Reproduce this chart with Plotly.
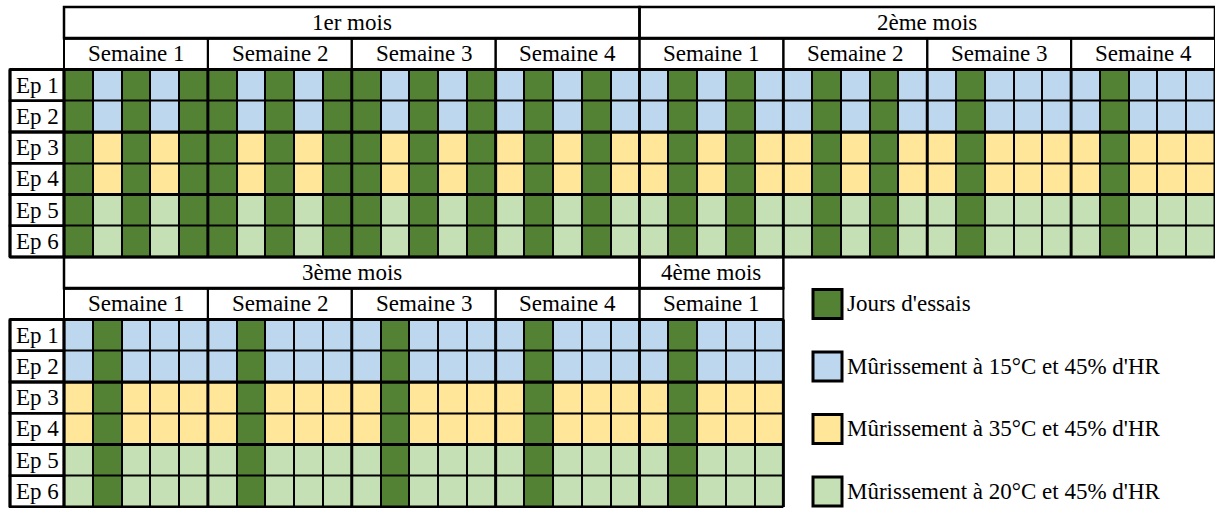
import plotly.graph_objects as go

# ---------------- data ----------------
specimens = ["Ep 1", "Ep 2", "Ep 3", "Ep 4", "Ep 5", "Ep 6"]
specimen_condition = [1, 1, 2, 2, 3, 3]  # index into legend categories

legend_labels = [
    "Jours d'essais",
    "Mûrissement à 15°C et 45% d'HR",
    "Mûrissement à 35°C et 45% d'HR",
    "Mûrissement à 20°C et 45% d'HR",
]
category_colors = ["#548235", "#BDD7EE", "#FFE699", "#C5E0B4"]

week_label = "Semaine"
days_per_week = 5

top_months = ["1er mois", "2ème mois"]
top_weeks_per_month = [4, 4]
bottom_months = ["3ème mois", "4ème mois"]
bottom_weeks_per_month = [4, 1]

# 1 = test day, 0 = curing day (per working day)
test_days_month1 = [1, 0, 1, 0, 1, 1, 0, 1, 0, 1, 1, 0, 1, 0, 1, 0, 1, 0, 1, 0]
test_days_month2 = [0, 1, 0, 1, 0, 0, 1, 0, 1, 0, 0, 1, 0, 0, 0, 0, 1, 0, 0, 0]
test_days_month3 = [0, 1, 0, 0, 0, 0, 1, 0, 0, 0, 0, 1, 0, 0, 0, 0, 1, 0, 0, 0]
test_days_month4 = [0, 1, 0, 0, 0]

# ---------------- geometry ----------------
W, H = 1215, 508
x_left_px = 64
cell_w = (W - x_left_px) / 40.0
y_top_px = 7
row_h = 31.25
label_x0 = (10 - x_left_px) / cell_w

FONT = dict(family="Liberation Serif, Times New Roman, serif", size=23, color="black")

fig = go.Figure()
shapes = []
annotations = []

n = len(category_colors)
colorscale = []
for i, c in enumerate(category_colors):
    colorscale.append([i / n, c])
    colorscale.append([(i + 1) / n, c])


def add_panel(r0, months, weeks_per_month, schedules):
    schedule = [d for s in schedules for d in s]
    ndays = len(schedule)
    z = []
    for cond in specimen_condition:
        z.append([0 if d == 1 else cond for d in schedule])
    xs = [i + 0.5 for i in range(ndays)]
    ys = [r0 + 2 + j + 0.5 for j in range(len(specimens))]

    # black background -> gaps become grid lines
    shapes.append(dict(type="rect", xref="x", yref="y", x0=0, x1=ndays, y0=r0 + 2,
                       y1=r0 + 2 + len(specimens), fillcolor="black",
                       line=dict(width=0), layer="below"))
    fig.add_trace(go.Heatmap(z=z, x=xs, y=ys, colorscale=colorscale, zmin=0, zmax=n - 1,
                             showscale=False, xgap=2, ygap=2, hoverinfo="skip"))

    # thick week separators inside grid
    nweeks = sum(weeks_per_month)
    for k in range(nweeks + 1):
        xk = k * days_per_week
        shapes.append(dict(type="line", xref="x", yref="y", x0=xk, x1=xk, y0=r0 + 2,
                           y1=r0 + 2 + len(specimens), line=dict(color="black", width=3)))
    for yk in [0, 2, 4, 6]:
        shapes.append(dict(type="line", xref="x", yref="y", x0=label_x0, x1=ndays,
                           y0=r0 + 2 + yk, y1=r0 + 2 + yk, line=dict(color="black", width=3)))

    # month and week headers
    start = 0
    for m, nw in zip(months, weeks_per_month):
        end = start + nw * days_per_week
        shapes.append(dict(type="rect", xref="x", yref="y", x0=start, x1=end, y0=r0,
                           y1=r0 + 1, line=dict(color="black", width=2.5)))
        annotations.append(dict(x=(start + end) / 2, y=r0 + 0.5, text=m, showarrow=False,
                                xref="x", yref="y", font=FONT))
        for w in range(nw):
            ws = start + w * days_per_week
            shapes.append(dict(type="rect", xref="x", yref="y", x0=ws, x1=ws + days_per_week,
                               y0=r0 + 1, y1=r0 + 2, line=dict(color="black", width=2)))
            annotations.append(dict(x=ws + days_per_week / 2, y=r0 + 1.5,
                                    text=f"{week_label} {w + 1}", showarrow=False,
                                    xref="x", yref="y", font=FONT))
        start = end
    shapes.append(dict(type="line", xref="x", yref="y", x0=0, x1=ndays, y0=r0 + 1, y1=r0 + 1,
                       line=dict(color="black", width=3)))

    # specimen labels
    for j, s in enumerate(specimens):
        shapes.append(dict(type="rect", xref="x", yref="y", x0=label_x0, x1=0,
                           y0=r0 + 2 + j, y1=r0 + 3 + j, line=dict(color="black", width=2.5)))
        annotations.append(dict(x=label_x0 / 2, y=r0 + 2.5 + j, text=s, showarrow=False,
                                xref="x", yref="y", font=FONT))
    shapes.append(dict(type="line", xref="x", yref="y", x0=label_x0, x1=label_x0,
                       y0=r0 + 2, y1=r0 + 2 + len(specimens), line=dict(color="black", width=3)))


add_panel(0, top_months, top_weeks_per_month, [test_days_month1, test_days_month2])
add_panel(8, bottom_months, bottom_weeks_per_month, [test_days_month3, test_days_month4])

# legend (custom)
leg_x = (827.5 - x_left_px) / cell_w
leg_y = [9.5 + 2 * i for i in range(len(legend_labels))]
fig.add_trace(go.Scatter(x=[leg_x] * len(legend_labels), y=leg_y, mode="markers",
                         marker=dict(symbol="square", size=29, color=category_colors,
                                     line=dict(color="black", width=3)),
                         hoverinfo="skip", showlegend=False, cliponaxis=False))
for yv, lab in zip(leg_y, legend_labels):
    annotations.append(dict(x=(845 - x_left_px) / cell_w, y=yv, text=lab, showarrow=False,
                            xref="x", yref="y", xanchor="left", font=FONT))

fig.update_layout(
    width=W, height=H,
    margin=dict(l=0, r=0, t=0, b=0),
    paper_bgcolor="white", plot_bgcolor="white",
    shapes=shapes, annotations=annotations,
    showlegend=False, hovermode=False,
    xaxis=dict(range=[-x_left_px / cell_w, (W - x_left_px) / cell_w], visible=False,
               fixedrange=True),
    yaxis=dict(range=[(H - y_top_px) / row_h, -y_top_px / row_h], visible=False,
               fixedrange=True),
)

fig.write_html(
    "out.html",
    config={"displayModeBar": False},
    post_script="document.body.style.margin='0';document.body.style.overflow='hidden';",
)
